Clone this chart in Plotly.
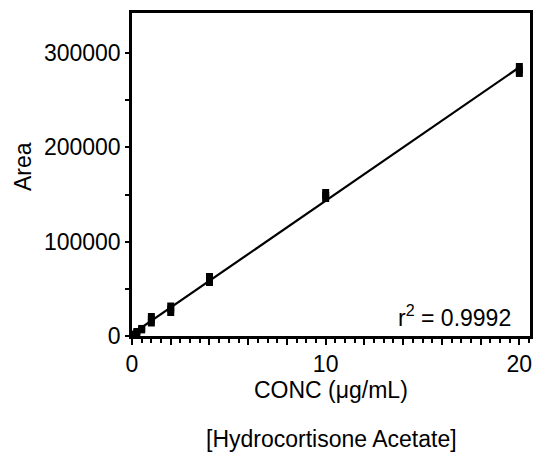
import numpy as np
import plotly.graph_objects as go

# Data
conc = [0.1, 0.1, 0.25, 0.25, 0.5, 0.5, 1, 1, 1, 2, 2, 2, 4, 4, 4, 10, 10, 10, 20, 20, 20]
area = [1200, 2000, 3500, 4800, 6500, 8000, 13800, 17000, 20700, 24900, 28500, 31800,
        56700, 60000, 63100, 145800, 149000, 152200, 278400, 282000, 285800]
x_tickvals = [0, 2, 4, 6, 8, 10, 12, 14, 16, 18, 20]
x_ticktext = ["0", "", "", "", "", "10", "", "", "", "", "20"]
y_tickvals = [0, 100000, 200000, 300000]
y_ticktext = ["0", "100000", "200000", "300000"]
y_minor = [50000, 150000, 250000]
r2_text = "r<sup>2</sup> = 0.9992"
x_title = "CONC (\u03bcg/mL)"
y_title = "Area"
sub_title = "[Hydrocortisone Acetate]"

slope, intercept = np.polyfit(conc, area, 1)
fit_x = np.array([0, 20])
fit_y = slope * fit_x + intercept

FONT = "Liberation Sans, Arial, sans-serif"
FS = 23

fig = go.Figure()
fig.add_trace(go.Scatter(x=fit_x, y=fit_y, mode="lines",
                         line=dict(color="black", width=2.2), showlegend=False, cliponaxis=False))
fig.add_trace(go.Scatter(x=conc, y=area, mode="markers",
                         marker=dict(symbol="square", size=7, color="black", line=dict(width=0)),
                         showlegend=False, cliponaxis=False))

fig.update_layout(
    width=534, height=461,
    margin=dict(l=132, r=4, t=13, b=125, autoexpand=False),
    plot_bgcolor="white", paper_bgcolor="white",
    font=dict(family=FONT, size=FS, color="black"),
    xaxis=dict(range=[0, 20.55], tickvals=x_tickvals, ticktext=x_ticktext,
               ticks="outside", ticklen=6, tickwidth=2, tickcolor="black",
               minor=dict(dtick=0.5, tick0=0, ticks="outside", ticklen=4, tickwidth=2,
                          tickcolor="black", showgrid=False),
               showline=True, linewidth=2.5, linecolor="black", mirror=True, showgrid=False,
               zeroline=False, automargin=False, tickfont=dict(size=FS)),
    yaxis=dict(range=[0, 342500], tickvals=y_tickvals, ticktext=y_ticktext,
               ticks="outside", ticklen=4, tickwidth=2, tickcolor="black",
               minor=dict(tickvals=y_minor, ticks="outside", ticklen=4, tickwidth=2,
                          tickcolor="black", showgrid=False),
               showline=True, linewidth=2.5, linecolor="black", mirror=True, showgrid=False,
               zeroline=False, automargin=False, tickfont=dict(size=FS)),
    annotations=[
        dict(text=r2_text, x=0.957, y=0.062, xref="paper", yref="paper",
             xanchor="right", yanchor="middle", showarrow=False, font=dict(size=FS)),
        dict(text=x_title, x=0.5, y=-0.168, xref="paper", yref="paper",
             xanchor="center", yanchor="middle", showarrow=False, font=dict(size=FS)),
        dict(text=sub_title, x=0.5, y=-0.318, xref="paper", yref="paper",
             xanchor="center", yanchor="middle", showarrow=False, font=dict(size=FS)),
        dict(text=y_title, x=-0.274, y=0.526, xref="paper", yref="paper", textangle=-90,
             xanchor="center", yanchor="middle", showarrow=False, font=dict(size=FS)),
    ],
)
fig.write_html("out.html", config={"displayModeBar": False},
               post_script="document.body.style.margin='0';document.body.style.overflow='hidden';")
